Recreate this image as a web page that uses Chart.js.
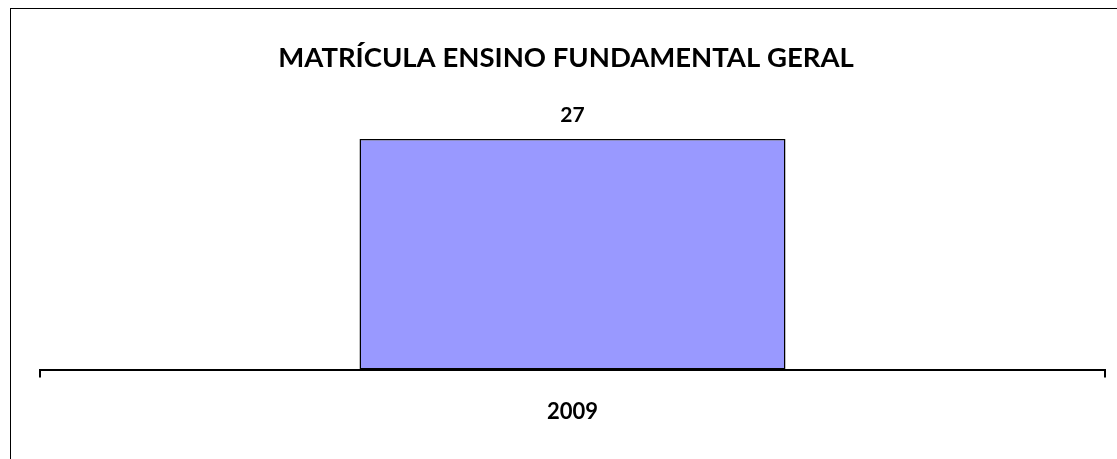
<!DOCTYPE html>
<html>
<head>
<meta charset="utf-8">
<script src="https://cdn.jsdelivr.net/npm/chart.js@4/dist/chart.umd.min.js"></script>
<style>
  html, body { margin: 0; padding: 0; background: #fff; overflow: hidden; }
  #wrap { position: absolute; left: 0; top: 0; width: 1117px; height: 459px; }
  #frame { position: absolute; left: 10px; top: 8px; width: 1300px; height: 600px; border: 1px solid #000; box-sizing: border-box; pointer-events: none; }
</style>
</head>
<body>
<div id="wrap"><canvas id="c" width="1117" height="459"></canvas></div>
<div id="frame"></div>
<script>
const titleText = 'MATRÍCULA ENSINO FUNDAMENTAL GERAL';
const categories = ['2009'];
const values = [27];
const yMax = 30;

const FONT = 'Lato, "Open Sans", sans-serif';

// Draws the title centred on the outer frame rather than on the plot.
const shiftedTitle = {
  id: 'shiftedTitle',
  afterDraw(chart) {
    const t = chart.titleBlock;
    if (!t) return;
    const ctx = chart.ctx;
    ctx.save();
    ctx.font = 'bold 27.5px ' + FONT;
    ctx.fillStyle = '#000';
    ctx.textAlign = 'center';
    ctx.textBaseline = 'middle';
    const y = t.top + t.options.padding.top + 33 / 2;
    ctx.fillText(titleText, 566, y);
    ctx.restore();
  }
};

const valueLabels = {
  id: 'valueLabels',
  afterDatasetsDraw(chart) {
    const ctx = chart.ctx;
    const meta = chart.getDatasetMeta(0);
    ctx.save();
    ctx.font = 'bold 21px ' + FONT;
    ctx.fillStyle = '#000';
    ctx.textAlign = 'center';
    ctx.textBaseline = 'alphabetic';
    meta.data.forEach((bar, i) => {
      ctx.fillText(String(values[i]), bar.x, bar.y - 17);
    });
    ctx.restore();
  }
};

new Chart(document.getElementById('c'), {
  type: 'bar',
  data: {
    labels: categories,
    datasets: [{
      data: values,
      backgroundColor: '#9999FF',
      borderColor: '#000',
      borderWidth: 1.5,
      borderSkipped: false,
      barPercentage: 0.4,
      categoryPercentage: 1.0
    }]
  },
  options: {
    responsive: false,
    animation: false,
    events: [],
    layout: { padding: { left: 40, right: 12, top: 0, bottom: 13 } },
    plugins: {
      legend: { display: false },
      tooltip: { enabled: false },
      title: {
        display: true,
        text: titleText,
        color: 'rgba(0,0,0,0)',
        font: { family: FONT, size: 27.5, weight: 'bold' },
        padding: { top: 42, bottom: 38.5 }
      }
    },
    scales: {
      x: {
        grid: { display: true, drawOnChartArea: false, drawTicks: true, tickLength: 8, color: '#000', lineWidth: 2, offset: true },
        border: { display: true, color: '#000', width: 2 },
        ticks: { color: '#000', font: { family: FONT, size: 22, weight: 'bold' }, padding: 21 }
      },
      y: {
        display: false,
        min: 0,
        max: yMax
      }
    }
  },
  plugins: [valueLabels, shiftedTitle]
});
</script>
</body>
</html>
